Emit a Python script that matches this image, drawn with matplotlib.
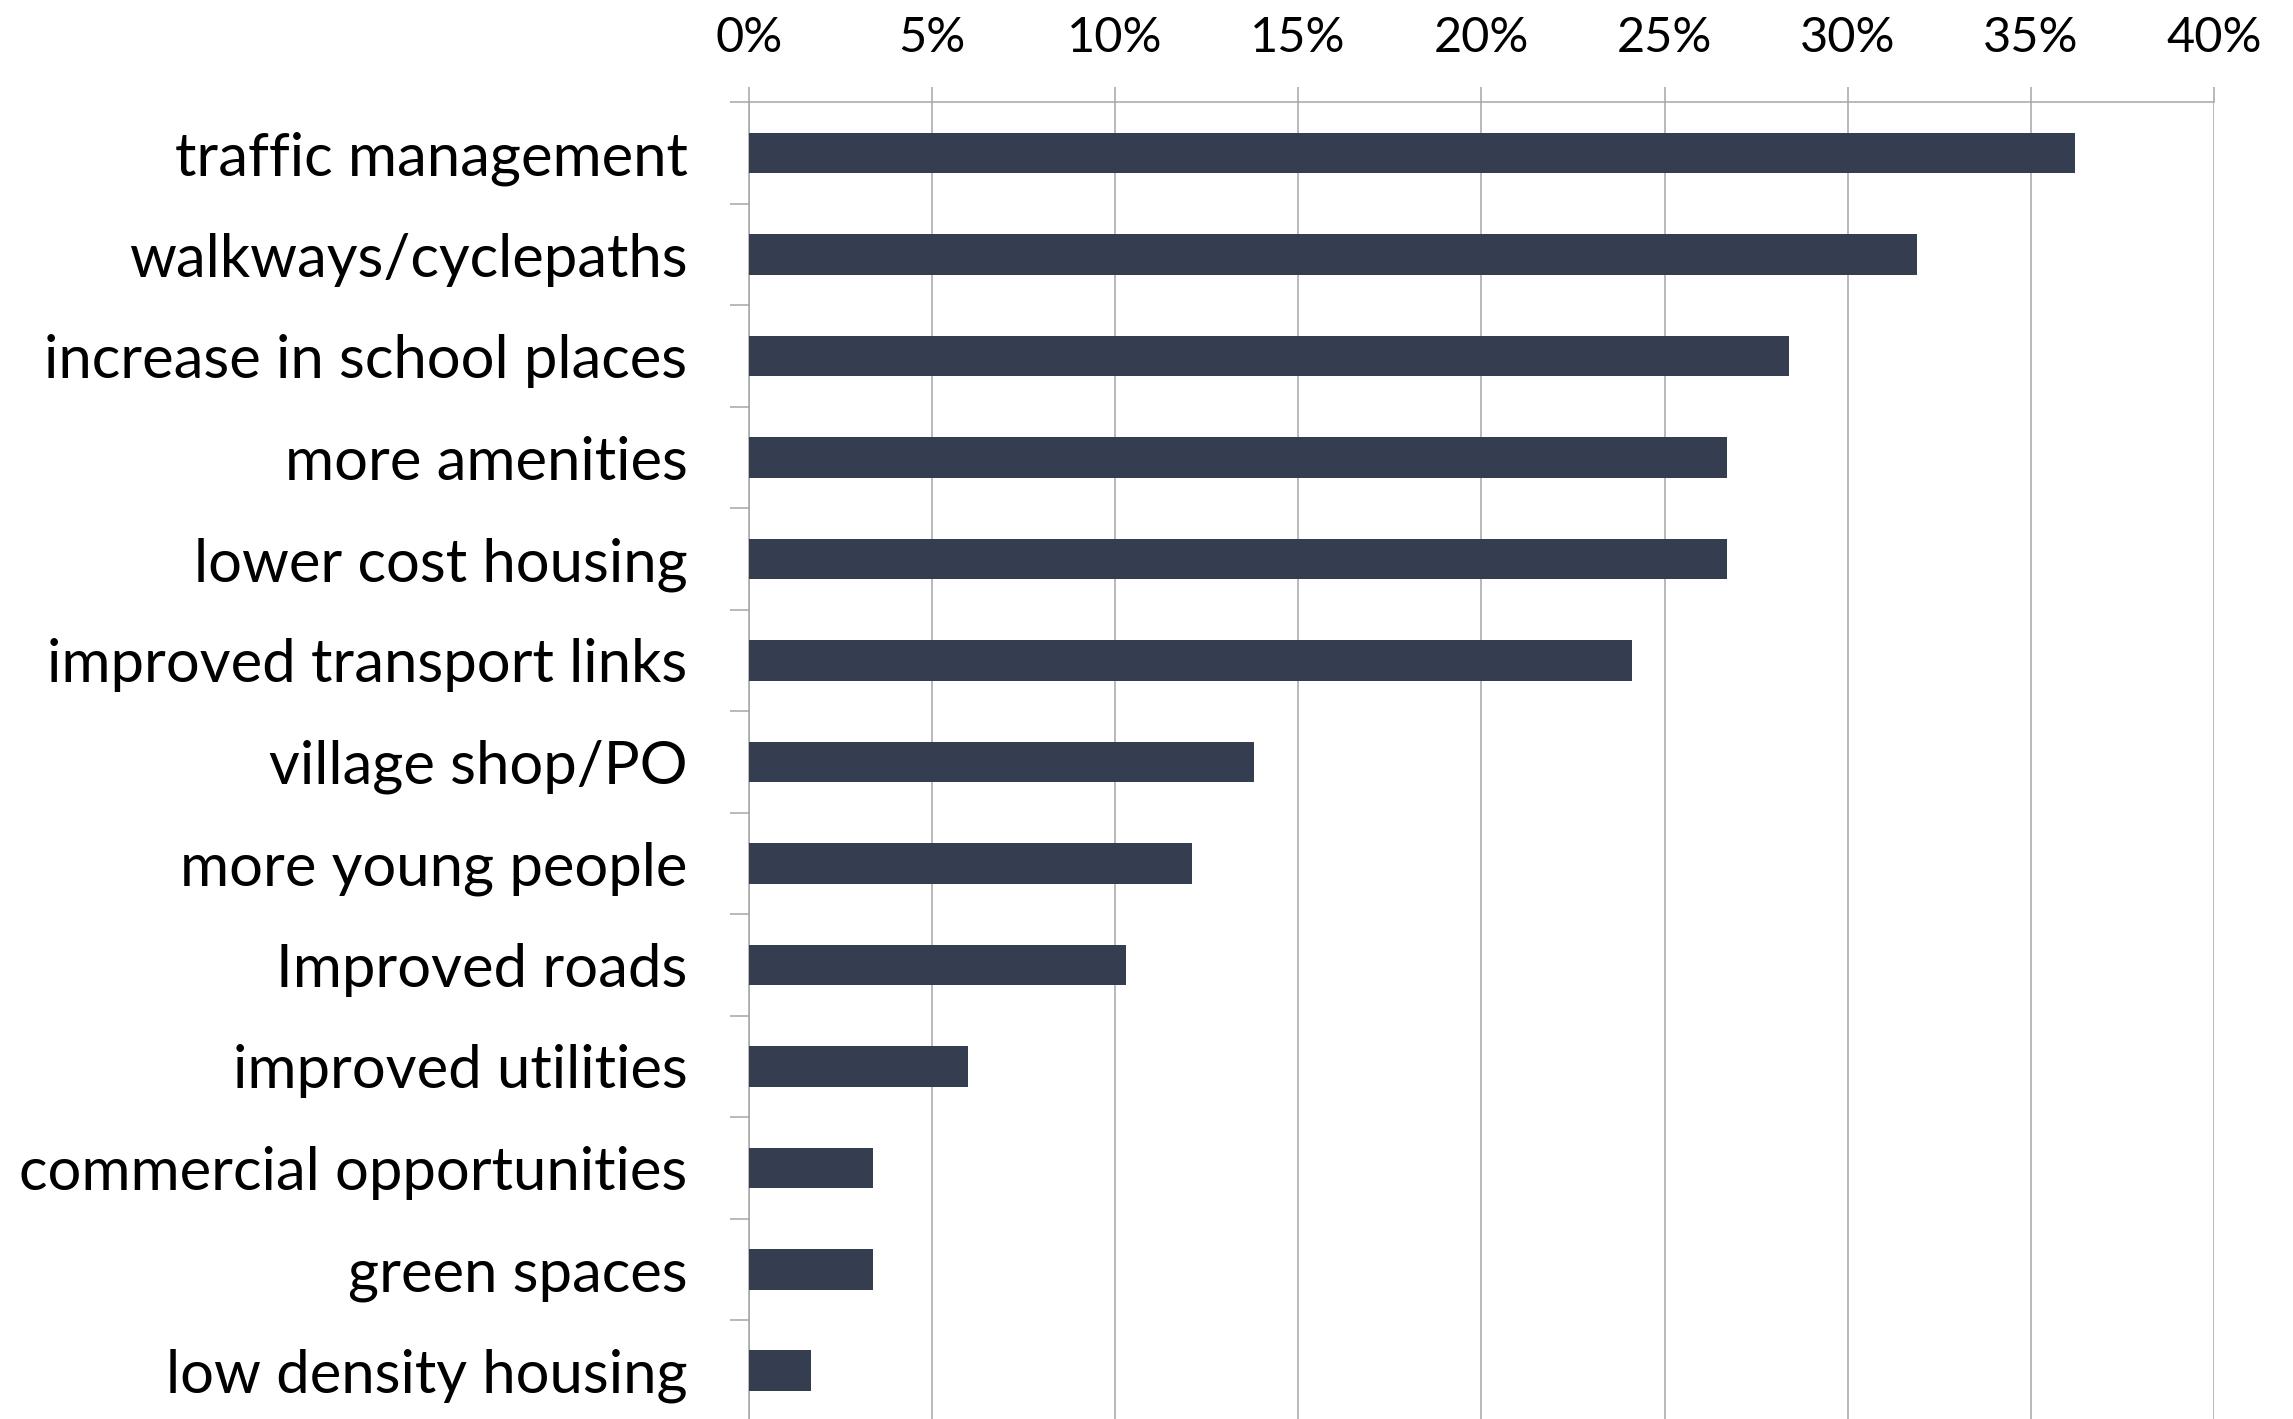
import matplotlib
matplotlib.use("Agg")
import matplotlib.pyplot as plt
import numpy as np
from matplotlib.ticker import FuncFormatter, FixedLocator

categories = [
    "traffic management",
    "walkways/cyclepaths",
    "increase in school places",
    "more amenities",
    "lower cost housing",
    "improved transport links",
    "village shop/PO",
    "more young people",
    "Improved roads",
    "improved utilities",
    "commercial opportunities",
    "green spaces",
    "low density housing",
]
values = [36.2, 31.9, 28.4, 26.7, 26.7, 24.1, 13.8, 12.1, 10.3, 6.0, 3.4, 3.4, 1.7]
xticks = [0, 5, 10, 15, 20, 25, 30, 35, 40]

W, H = 2293, 1419
fig = plt.figure(figsize=(W / 100, H / 100), dpi=100)
left, right = 748.7 / W, 2214 / W
top, bottom = 1 - 102.4 / H, 1 - 1421.5 / H
ax = fig.add_axes([left, bottom, right - left, top - bottom])

font = "Lato"
grid_c = "#A6A6A6"
bar_c = "#343E50"

n = len(categories)
y = np.arange(n)
ax.barh(y, values, height=0.4, color=bar_c, zorder=3)
ax.set_ylim(n - 0.5, -0.5)
ax.set_xlim(0, 40)

ax.xaxis.set_ticks_position("top")
ax.set_xticks(xticks)
ax.xaxis.set_major_formatter(FuncFormatter(lambda v, p: f"{v:.0f}%"))
ax.tick_params(axis="x", which="major", length=10.5, width=1.1, color=grid_c,
               pad=20, labelsize=35, labelcolor="black")
ax.grid(axis="x", color=grid_c, linewidth=1.1, zorder=0)

ax.set_yticks(y)
ax.set_yticklabels(categories)
ax.yaxis.set_minor_locator(FixedLocator(np.arange(-0.5, n + 0.5, 1)))
ax.tick_params(axis="y", which="major", length=0, pad=44, labelsize=43)
ax.tick_params(axis="y", which="minor", length=14, width=1.1, color=grid_c)

for lab in ax.get_xticklabels() + ax.get_yticklabels():
    lab.set_fontfamily(font)

for s in ["right", "bottom"]:
    ax.spines[s].set_visible(False)
for s in ["top", "left"]:
    ax.spines[s].set_color(grid_c)
    ax.spines[s].set_linewidth(1.1)

fig.savefig("out.png", dpi=100)
